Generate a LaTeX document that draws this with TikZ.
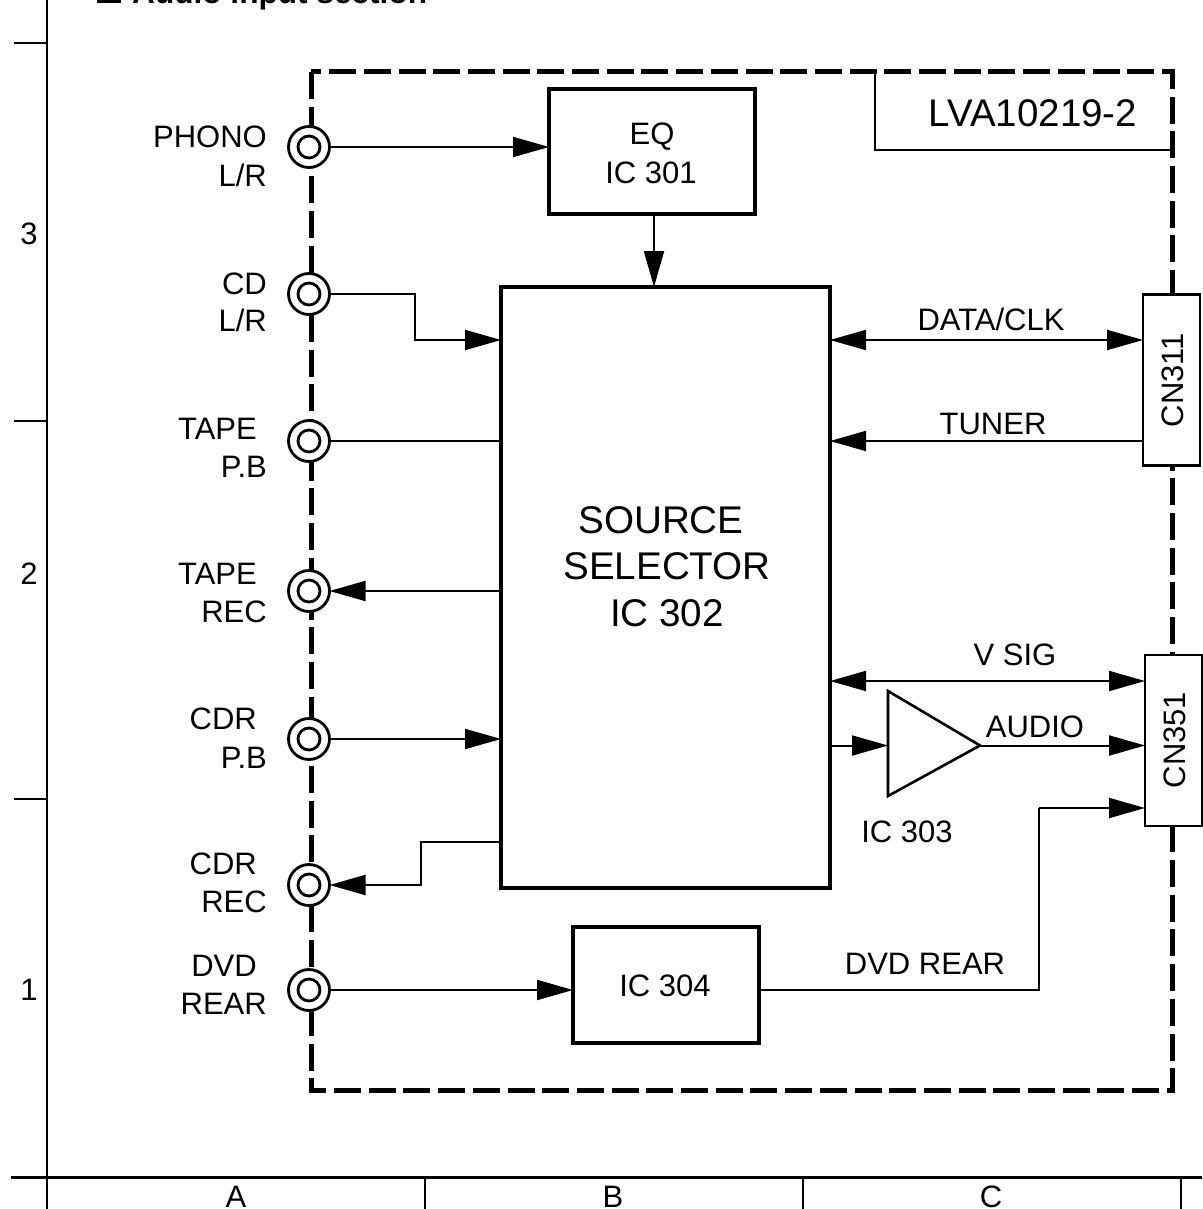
\documentclass[tikz,border=0pt]{standalone}
\usepackage{fontspec}
\setmainfont{Liberation Sans}
\usetikzlibrary{arrows.meta}
\tikzset{
    lab/.style={
        font=\fontsize{31}{38}\selectfont, inner sep=0pt, text height=22pt, text depth=0pt
    }
}

\begin{document}
\begin{tikzpicture}[x=1pt,y=-1pt, line cap=butt, line join=miter]

\tikzset{
  frame/.style={draw=black, line width=2.4pt},
  board/.style={draw=black, line width=5pt, dash pattern=on 27pt off 7.7pt},
  icbox/.style={draw=black, fill=white, line width=3.4pt, inner sep=0pt, outer sep=0pt},
  conn/.style={draw=black, fill=white, line width=2.6pt, inner sep=0pt, outer sep=0pt, minimum width=57pt, minimum height=171pt},
  connlab/.style={lab, rotate=90},
  jack/.style={circle, draw=black, fill=white, line width=2.8pt, minimum size=41pt, inner sep=0pt, outer sep=0pt},
  jackin/.style={circle, draw=black, line width=2.8pt, minimum size=22pt, inner sep=0pt},
  sig/.style={draw=black, line width=2pt},
  arr/.style={sig, -{Triangle[length=36pt,width=20pt]}},
  arrboth/.style={sig, {Triangle[length=36pt,width=20pt]}-{Triangle[length=36pt,width=20pt]}},
  jacklab/.style={lab, anchor=east},
  sellab/.style={lab, font=\fontsize{38.6}{44}\selectfont, text height=27.5pt},
}

\useasboundingbox (0,0) rectangle (1202,1209);

% sheet frame
\draw[frame] (47,0) -- (47,1209);
\draw[frame] (14,43) -- (47,43);
\draw[frame] (14,421) -- (47,421);
\draw[frame] (14,799) -- (47,799);
\draw[frame, line width=3pt] (11,1177) -- (1202,1177);
\draw[frame] (425,1177) -- (425,1209);
\draw[frame] (803,1177) -- (803,1209);
\draw[frame] (1181,1177) -- (1181,1209);

\node[lab] (row3) at (29,233) {3};
\node[lab] (row2) at (29,573) {2};
\node[lab] (row1) at (29,989) {1};
\node[lab] (colA) at (236,1196) {A};
\node[lab] (colB) at (613,1196) {B};
\node[lab] (colC) at (991,1196) {C};

% title
\draw[black, line width=3pt] (98.5,-20) rectangle (119,1.5);
\node[anchor=base west, inner sep=0pt, font=\fontsize{31.6}{38}\selectfont\bfseries] (title) at (132,3.5) {Audio input section};

% board outline
\draw[board] (311,72) rectangle (1172,1090);
\draw[black, line width=2.2pt] (875,72) -- (875,150) -- (1172,150);
\node[lab, font=\fontsize{38.5}{44}\selectfont, text height=27.5pt] (board) at (1033,113) {LVA10219-2};

% blocks
\node[icbox, minimum width=206pt, minimum height=125pt] (eq) at (652,151.5) {};
\node[icbox, minimum width=329pt, minimum height=601pt] (sel) at (665.5,587.5) {};
\node[icbox, minimum width=186pt, minimum height=116pt] (ic304) at (666,985) {};
\node[conn] (cn311) at (1171.5,380) {};
\node[conn] (cn351) at (1173.5,740.5) {};
\node[connlab] (cn311lab) at (1172,380) {CN311};
\node[connlab] (cn351lab) at (1174,740) {CN351};
\coordinate (ampa) at (888,691);
\coordinate (ampb) at (888,796);
\coordinate (ampc) at (980,745.5);
\draw[sig, line width=2.6pt] (ampa) -- (ampc) -- (ampb) -- cycle;

\node[lab] (eq1) at (652,134) {EQ};
\node[lab] (eq2) at (651,172) {IC 301};
\node[lab] (ic304lab) at (665,985) {IC 304};
\node[sellab] (sel1) at (661,520) {SOURCE};
\node[sellab] (sel2) at (667,566) {SELECTOR};
\node[sellab] (sel3) at (667,613) {IC 302};

% jacks
\node[jack] (phono) at (309,147) {};
\node[jack] (cd) at (309,294) {};
\node[jack] (tapepb) at (309,441) {};
\node[jack] (taperec) at (309,591) {};
\node[jack] (cdrpb) at (309,739) {};
\node[jack] (cdrrec) at (309,885) {};
\node[jack] (dvd) at (309,990) {};
\node[jackin] at (phono) {};
\node[jackin] at (cd) {};
\node[jackin] at (tapepb) {};
\node[jackin] at (taperec) {};
\node[jackin] at (cdrpb) {};
\node[jackin] at (cdrrec) {};
\node[jackin] at (dvd) {};

% jack labels
\node[jacklab] at (267,137) {PHONO};
\node[jacklab] at (267,175) {L/R};
\node[jacklab] at (267,283) {CD};
\node[jacklab] at (267,320) {L/R};
\node[jacklab] at (257,428) {TAPE};
\node[jacklab] at (267,466) {P.B};
\node[jacklab] at (257,573) {TAPE};
\node[jacklab] at (267,611) {REC};
\node[jacklab] at (257,718) {CDR};
\node[jacklab] at (267,757) {P.B};
\node[jacklab] at (257,863) {CDR};
\node[jacklab] at (267,901) {REC};
\node[jacklab] at (257,965) {DVD};
\node[jacklab] at (267,1003) {REAR};

% signals left side
\coordinate (eqx) at (654,0);
\draw[arr] (phono.east) -- (phono.east -| eq.west);
\draw[arr] (eq.south -| eqx) -- (sel.north -| eqx);
\coordinate (cdbend) at (415,340);
\draw[arr] (cd.east) -| (cdbend) -- (cdbend -| sel.west);
\draw[sig] (tapepb.east) -- (tapepb.east -| sel.west);
\draw[arr] (taperec.east -| sel.west) -- (taperec.east);
\draw[arr] (cdrpb.east) -- (cdrpb.east -| sel.west);
\coordinate (cdrbend) at (421,842);
\draw[arr] (cdrbend -| sel.west) -- (cdrbend) |- (cdrrec.east);
\draw[arr] (dvd.east) -- (dvd.east -| ic304.west);

% signals right side
\coordinate (datay) at (0,340);
\coordinate (tunery) at (0,441);
\coordinate (vsigy) at (0,681);
\coordinate (rearbend) at (1039,808);
\draw[arrboth] (datay -| sel.east) -- (datay -| cn311.west);
\draw[arr] (tunery -| cn311.west) -- (tunery -| sel.east);
\draw[arrboth] (vsigy -| sel.east) -- (vsigy -| cn351.west);
\draw[arr] (ampc -| sel.east) -- (ampc -| ampa);
\draw[arr] (ampc) -- (ampc -| cn351.west);
\draw[sig] (ic304.east |- dvd.east) -| (rearbend);
\draw[arr] (rearbend) -- (rearbend -| cn351.west);

% signal labels
\node[lab] (datalab) at (991,319) {DATA/CLK};
\node[lab] (tunerlab) at (993,423) {TUNER};
\node[lab] (vsiglab) at (1015,654) {V SIG};
\node[lab] (audiolab) at (1035,726) {AUDIO};
\node[lab] (amplab) at (907,831) {IC 303};
\node[lab] (rearlab) at (925,963) {DVD REAR};

\end{tikzpicture}
\end{document}
